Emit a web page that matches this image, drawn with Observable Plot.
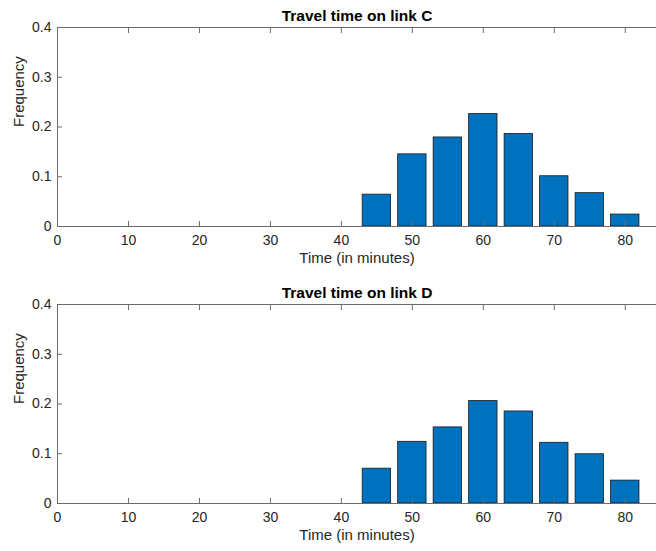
<!DOCTYPE html>
<html>
<head>
<meta charset="utf-8">
<script src="https://cdn.jsdelivr.net/npm/d3@7"></script>
<script src="https://cdn.jsdelivr.net/npm/@observablehq/plot@0.6"></script>
<style>
  html, body { margin: 0; padding: 0; background: #fff; }
  #chart svg { display: block; }
</style>
</head>
<body>
<div id="chart"></div>
<script>
// Bin centers (minutes)
const times = [45, 50, 55, 60, 65, 70, 75, 80];
// Relative frequencies, link C
const freqC = [0.064, 0.145, 0.179, 0.226, 0.186, 0.101, 0.067, 0.024];
// Relative frequencies, link D
const freqD = [0.070, 0.124, 0.153, 0.206, 0.185, 0.122, 0.099, 0.046];
const titles = ["Travel time on link C", "Travel time on link D"];
const xTicks = [0, 10, 20, 30, 40, 50, 60, 70, 80];
const xTickLabels = ["0", "10", "20", "30", "40", "50", "60", "70", "80"];
const yTicks = [0, 0.1, 0.2, 0.3, 0.4];
const yTickLabels = ["0", "0.1", "0.2", "0.3", "0.4"];
const xLabel = "Time (in minutes)";
const yLabel = "Frequency";
const binWidth = 4;

const font = "'Liberation Sans', Arial, Helvetica, sans-serif";
const axisColor = "#6b6b6b";
const textColor = "#262626";

function makeChart(title, freqs, height, marginTop, marginBottom) {
  const data = times.map((t, i) => ({t, f: freqs[i]}));
  return Plot.plot({
    width: 656,
    height,
    marginLeft: 57,
    marginRight: 0,
    marginTop,
    marginBottom,
    style: {fontFamily: font, fontSize: "14px", color: textColor, background: "#fff"},
    x: {domain: [0, 84.4], label: null},
    y: {domain: [0, 0.4], label: null},
    marks: [
      Plot.rectY(data, {
        x1: d => d.t - binWidth / 2,
        x2: d => d.t + binWidth / 2,
        y: "f",
        fill: "#0072BD",
        stroke: "#1a1a1a",
        strokeWidth: 0.8
      }),
      Plot.ruleX([0], {stroke: axisColor}),
      Plot.ruleY([0, 0.4], {stroke: axisColor}),
      // inward ticks
      Plot.axisX({anchor: "bottom", ticks: xTicks, tickSize: -5, fill: "none", stroke: axisColor, label: null}),
      Plot.axisX({anchor: "top", ticks: xTicks, tickSize: -5, fill: "none", stroke: axisColor, label: null}),
      Plot.axisY({anchor: "left", ticks: yTicks, tickSize: -5, fill: "none", stroke: axisColor, label: null}),
      // tick labels
      Plot.axisX({anchor: "bottom", ticks: xTicks, tickSize: 0, tickPadding: 9, fontSize: 14,
        tickFormat: (d, i) => xTickLabels[i], fill: textColor, label: null}),
      Plot.axisY({anchor: "left", ticks: yTicks, tickSize: 0, tickPadding: 6, fontSize: 14,
        tickFormat: (d, i) => yTickLabels[i], fill: textColor, label: null}),
      // title and axis labels
      Plot.text([title], {frameAnchor: "top", lineAnchor: "middle", dy: -11, fontWeight: "bold", fontSize: 15.5, fill: "#000"}),
      Plot.text([xLabel], {frameAnchor: "bottom", lineAnchor: "middle", dy: 32, fontSize: 15, fill: textColor}),
      Plot.text([yLabel], {frameAnchor: "left", lineAnchor: "middle", dx: -38, rotate: -90, fontSize: 15, fill: textColor})
    ]
  });
}

const el = document.getElementById("chart");
el.appendChild(makeChart(titles[0], freqC, 275, 27, 49));
el.appendChild(makeChart(titles[1], freqD, 276, 29, 48));
</script>
</body>
</html>
